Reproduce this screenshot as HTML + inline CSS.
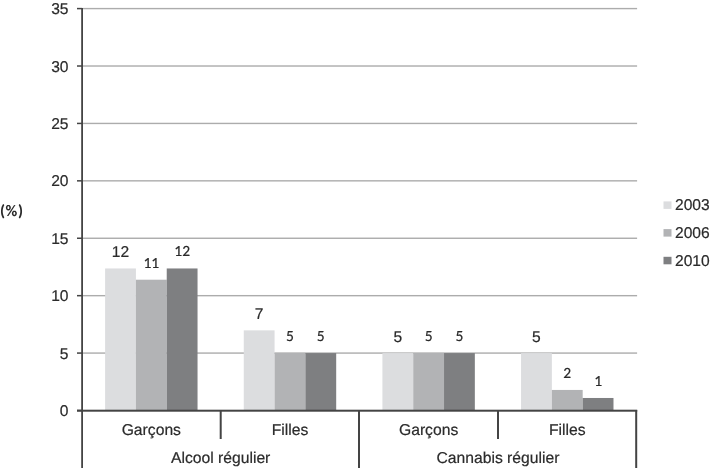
<!DOCTYPE html>
<html><head><meta charset="utf-8"><style>
html,body{margin:0;padding:0;background:#fff;}
body{width:710px;height:468px;overflow:hidden;}
svg{display:block;will-change:transform;}
text{text-rendering:geometricPrecision;fill:#2b2b2b;stroke:#2b2b2b;stroke-width:0.2px;font-family:"Liberation Sans",Arial,sans-serif;font-size:15.6px;}
.yl{text-anchor:end;}
.cl{text-anchor:middle;font-size:15.7px;}
.lb{text-anchor:middle;font-family:Carlito,"DejaVu Sans",sans-serif;font-size:15.8px;font-size-adjust:cap-height 0.632;}
.la{text-anchor:middle;}
.pc{stroke:none;font-family:Carlito,"DejaVu Sans",sans-serif;font-size:16.5px;font-size-adjust:cap-height 0.632;font-weight:bold;letter-spacing:0.6px;}
</style></head><body>
<svg width="710" height="468" viewBox="0 0 710 468">
<rect width="710" height="468" fill="#fff"/>
<rect x="82.00" y="352.38" width="555.10" height="1.4" fill="#acacac"/>
<rect x="82.00" y="294.97" width="555.10" height="1.4" fill="#acacac"/>
<rect x="82.00" y="237.56" width="555.10" height="1.4" fill="#acacac"/>
<rect x="82.00" y="180.14" width="555.10" height="1.4" fill="#acacac"/>
<rect x="82.00" y="122.73" width="555.10" height="1.4" fill="#acacac"/>
<rect x="82.00" y="65.31" width="555.10" height="1.4" fill="#acacac"/>
<rect x="82.00" y="7.89" width="555.10" height="1.4" fill="#acacac"/>
<rect x="105.11" y="268.46" width="30.81" height="142.04" fill="#dcdddf"/>
<text class="la" x="120.51" y="257.16">12</text>
<rect x="135.92" y="279.71" width="30.81" height="130.79" fill="#b2b3b5"/>
<text class="lb" x="151.33" y="267.51">11</text>
<rect x="166.73" y="268.46" width="30.81" height="142.04" fill="#7e7f81"/>
<text class="lb" x="182.14" y="256.26">12</text>
<rect x="243.76" y="330.35" width="30.81" height="80.15" fill="#dcdddf"/>
<text class="la" x="259.16" y="319.05">7</text>
<rect x="274.57" y="353.08" width="30.81" height="57.42" fill="#b2b3b5"/>
<text class="lb" x="289.98" y="340.88">5</text>
<rect x="305.38" y="353.08" width="30.81" height="57.42" fill="#7e7f81"/>
<text class="lb" x="320.79" y="340.88">5</text>
<rect x="382.41" y="353.08" width="30.81" height="57.42" fill="#dcdddf"/>
<text class="la" x="397.81" y="341.78">5</text>
<rect x="413.22" y="353.08" width="30.81" height="57.42" fill="#b2b3b5"/>
<text class="lb" x="428.63" y="340.88">5</text>
<rect x="444.03" y="353.08" width="30.81" height="57.42" fill="#7e7f81"/>
<text class="lb" x="459.44" y="340.88">5</text>
<rect x="521.06" y="353.08" width="30.81" height="57.42" fill="#dcdddf"/>
<text class="la" x="536.46" y="341.78">5</text>
<rect x="551.87" y="389.95" width="30.81" height="20.55" fill="#b2b3b5"/>
<text class="lb" x="567.28" y="377.75">2</text>
<rect x="582.68" y="397.98" width="30.81" height="12.52" fill="#7e7f81"/>
<text class="lb" x="598.09" y="385.78">1</text>
<rect x="81.20" y="8" width="1.8" height="460" fill="#444444"/>
<rect x="77" y="409.75" width="5.00" height="1.5" fill="#444444"/>
<text class="yl" x="68.5" y="416.10">0</text>
<rect x="77" y="352.33" width="5.00" height="1.5" fill="#444444"/>
<text class="yl" x="68.5" y="358.69">5</text>
<rect x="77" y="294.92" width="5.00" height="1.5" fill="#444444"/>
<text class="yl" x="68.5" y="301.27">10</text>
<rect x="77" y="237.50" width="5.00" height="1.5" fill="#444444"/>
<text class="yl" x="68.5" y="243.85">15</text>
<rect x="77" y="180.09" width="5.00" height="1.5" fill="#444444"/>
<text class="yl" x="68.5" y="186.44">20</text>
<rect x="77" y="122.68" width="5.00" height="1.5" fill="#444444"/>
<text class="yl" x="68.5" y="129.03">25</text>
<rect x="77" y="65.26" width="5.00" height="1.5" fill="#444444"/>
<text class="yl" x="68.5" y="71.61">30</text>
<rect x="77" y="7.84" width="5.00" height="1.5" fill="#444444"/>
<text class="yl" x="68.5" y="14.19">35</text>
<rect x="77" y="409.7" width="560.20" height="2" fill="#444444"/>
<rect x="219.70" y="410" width="2" height="29" fill="#444444"/>
<rect x="358.00" y="410" width="2" height="58" fill="#444444"/>
<rect x="497.00" y="410" width="2" height="29" fill="#444444"/>
<rect x="635.20" y="410" width="2" height="58" fill="#444444"/>
<text class="cl" x="151.32" y="434.8">Garçons</text>
<text class="cl" x="289.98" y="434.8">Filles</text>
<text class="cl" x="428.62" y="434.8">Garçons</text>
<text class="cl" x="567.28" y="434.8">Filles</text>
<text class="cl" x="220.65" y="462.9">Alcool régulier</text>
<text class="cl" x="497.95" y="462.9">Cannabis régulier</text>
<text class="pc" x="0" y="215.5">(%)</text>
<rect x="663.5" y="201.40" width="8" height="7.5" fill="#dcdddf"/>
<text class="lg" x="675" y="210.40">2003</text>
<rect x="663.5" y="229.10" width="8" height="7.5" fill="#b2b3b5"/>
<text class="lg" x="675" y="238.10">2006</text>
<rect x="663.5" y="256.80" width="8" height="7.5" fill="#7e7f81"/>
<text class="lg" x="675" y="265.80">2010</text>
</svg>
</body></html>
